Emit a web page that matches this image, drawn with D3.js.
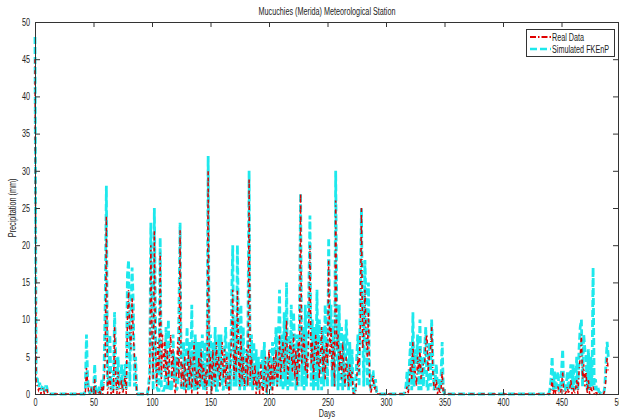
<!DOCTYPE html>
<html>
<head>
<meta charset="utf-8">
<script src="https://cdn.jsdelivr.net/npm/d3@7"></script>
<style>
body { margin: 0; background: #fff; }
text { font-family: "Liberation Sans", Arial, sans-serif; font-size: 10px; fill: #222; }
</style>
</head>
<body>
<div id="chart"></div>
<script>
const titleText = 'Mucuchies (Merida) Meteorological Station';
const seriesNames = ['Real Data', 'Simulated FKEnP'];
const xTicks = [0, 50, 100, 150, 200, 250, 300, 350, 400, 450, 500];
const yTicks = [0, 5, 10, 15, 20, 25, 30, 35, 40, 45, 50];

// daily precipitation (mm), day 0 .. 490
const realData = [
  45, 1.5, 1, 0.5, 1, 0, 0.5, 0.8, 0, 0.5,
  0.8, 0, 0, 0, 0, 0, 0, 0, 0, 0,
  0, 0, 0, 0, 0, 0, 0, 0, 0, 0,
  0, 0, 0, 0, 0, 0, 0, 0, 0, 0,
  0, 0, 0, 0, 3.5, 1.5, 0, 0, 0.6, 0,
  0, 2, 0, 0, 0, 0.5, 0, 1, 0, 1.5,
  5, 24, 0, 1, 3, 0, 0.5, 0, 9, 2,
  0, 3, 0, 0.5, 2, 0, 1, 2.5, 0, 10,
  14, 8, 6, 13, 8, 5, 3, 0, 0, 0,
  0, 0, 0, 0, 0, 0, 0, 0.5, 2, 20,
  8, 2, 22, 6, 1, 7, 3, 19, 2, 8,
  3, 7, 2, 6, 1, 5, 8, 2, 6, 1,
  0, 3, 7, 2, 22, 1, 4, 1, 5, 0,
  2, 6, 1, 5, 0, 4, 7, 1, 3, 0,
  5, 1, 6, 2, 4, 1, 3, 0, 30, 2,
  5, 0, 6, 2, 1, 7, 3, 5, 1, 4,
  7, 2, 6, 1, 5, 2, 0, 4, 8, 14,
  2, 6, 3, 14, 5, 1, 8, 2, 5, 1,
  3, 6, 1, 29, 2, 5, 3, 1, 4, 0,
  2, 3, 0, 4, 1, 0, 3, 5, 0, 2,
  6, 1, 4, 0, 5, 2, 6, 1, 3, 8,
  2, 5, 7, 3, 6, 10, 2, 4, 7, 6,
  3, 8, 2, 6, 1, 7, 3, 27, 4, 6,
  8, 3, 5, 2, 9, 20, 4, 7, 2, 6,
  8, 4, 7, 2, 5, 9, 3, 6, 2, 7,
  4, 18, 5, 9, 3, 7, 1, 26, 6, 8,
  3, 6, 2, 7, 3, 1, 5, 3, 1, 4,
  2, 3, 0, 0, 0, 2, 5, 3, 9, 25,
  6, 8, 14, 8, 5, 11, 2, 0, 1, 2.5,
  0.5, 1, 0, 0, 0, 0, 0, 0, 0, 0,
  0, 0, 0, 0, 0, 0, 0, 0, 0, 0,
  0, 0, 0, 0, 0, 0, 0, 0.3, 1, 0,
  2, 4, 2, 7, 3, 3, 1, 5, 3, 6,
  2, 3, 4, 4, 7, 8, 3, 5, 6, 9,
  3, 1, 0.5, 2, 0, 1, 0, 0.5, 3, 0,
  0, 0, 0, 0, 0, 0, 0, 0, 0, 0,
  0, 0, 0, 0, 0, 0, 0, 0, 0, 0,
  0, 0, 0, 0, 0, 0, 0, 0, 0, 0,
  0, 0, 0, 0, 0, 0, 0, 0, 0, 0,
  0, 0, 0, 0, 0, 0, 0, 0, 0, 0,
  0, 0, 0, 0, 0, 0, 0, 0, 0, 0,
  0, 0, 0, 0, 0, 0, 0, 0, 0, 0,
  0, 0, 0, 0, 0, 0, 0, 0, 0, 0,
  0, 0, 0, 0, 0, 0, 0, 0, 0, 0,
  0, 0.5, 2, 0, 1, 0, 0.5, 1, 0, 0,
  1, 3, 0, 0, 0.3, 1, 0, 0.5, 2, 0,
  1, 0, 0.5, 2, 0, 3, 5, 8, 2, 4,
  1, 3, 0, 2, 0, 1, 0.2, 1, 0, 0.3,
  0, 0.3, 0, 0, 0, 0, 0, 0.5, 2, 5,
  3
];

const simData = [
  48, 2, 2, 1, 1.5, 0.5, 1, 1.2, 0.3, 1,
  1, 0.2, 0, 0, 0, 0, 0, 0, 0, 0,
  0, 0, 0, 0, 0, 0, 0, 0, 0, 0,
  0, 0, 0, 0, 0, 0, 0, 0, 0, 0,
  0, 0, 0, 0.5, 8, 2, 0.5, 0, 1, 0.3,
  0, 4, 0.5, 0, 0.3, 1, 0, 2, 0.5, 3,
  12, 28, 1, 2, 8, 0.5, 2, 0.5, 11, 5,
  0.5, 5, 1, 1, 4, 0.5, 3, 4, 0.5, 16,
  18, 1, 10, 17, 12, 1, 5, 0, 0, 0,
  0, 0, 0, 0, 0, 0, 0, 1, 3, 23,
  12, 0.5, 25, 10, 1, 0.5, 0.5, 21, 1, 0.5,
  0.5, 1, 9, 0.5, 10, 0.5, 1, 0.5, 8, 2,
  5, 0.5, 1, 11, 23, 1, 0.5, 7, 0.5, 4,
  9, 0.5, 7, 0.5, 12, 1, 0.5, 8, 0.5, 7,
  0.5, 7, 1, 8, 0.5, 7, 0.5, 2, 32, 1,
  8, 0.5, 7, 1, 9, 0.5, 0.5, 8, 1, 8,
  1, 0.5, 6, 9, 0.5, 1, 7, 0.5, 12, 20,
  1, 10, 1, 20, 6, 0.5, 12, 1, 9, 0.5,
  6, 1, 9, 30, 1, 8, 0.5, 7, 1, 6,
  0.5, 5, 0.5, 3, 6, 1, 7, 0.5, 0.3, 5,
  1, 6, 0.5, 7, 1, 5, 9, 1, 7, 14,
  1, 8, 0.5, 11, 1, 15, 0.5, 8, 1, 12,
  1, 11, 6, 0.5, 8, 1, 10, 27, 1, 9,
  0.5, 12, 1, 8, 13, 24, 1, 10, 0.5, 9,
  1, 14, 0.5, 10, 6, 0.5, 9, 1, 12, 7,
  1, 21, 8, 12, 1, 10, 1, 30, 9, 0.5,
  12, 1, 9, 0.5, 8, 1, 10, 6, 0.5, 7,
  1, 6, 0.5, 0, 1, 5, 8, 1, 13, 25,
  9, 1, 18, 12, 1, 15, 1, 0.5, 3, 3,
  1, 2, 0.3, 0, 0, 0, 0, 0, 0, 0,
  0, 0, 0, 0, 0, 0, 0, 0, 0, 0,
  0, 0, 0, 0, 0, 0, 0.2, 1, 3, 0.5,
  4, 7, 0.5, 11, 1, 6, 4, 8, 0.5, 10,
  0.5, 5, 1, 6, 9, 1, 0.5, 7, 1, 10,
  5, 0.5, 2, 4, 0.5, 2, 0.5, 2, 7, 0.5,
  0, 0, 0, 0, 0, 0, 0, 0, 0, 0,
  0, 0, 0, 0, 0, 0, 0, 0, 0, 0,
  0, 0, 0, 0, 0, 0, 0, 0, 0, 0,
  0, 0, 0, 0, 0, 0, 0, 0, 0, 0,
  0, 0, 0, 0, 0, 0, 0, 0, 0, 0,
  0, 0, 0, 0, 0, 0, 0, 0, 0, 0,
  0, 0, 0, 0, 0, 0, 0, 0, 0, 0,
  0, 0, 0, 0, 0, 0, 0, 0, 0, 0,
  0, 0, 0, 0, 0, 0, 0, 0, 0, 0,
  0.5, 2, 5, 0.5, 3, 0.5, 2, 3, 0.5, 0.5,
  3, 6, 0.5, 0.5, 1, 3, 0.5, 2, 4, 0.5,
  4, 0.5, 2, 5, 0.5, 6, 9, 10, 1, 8,
  6, 5, 0.5, 6, 0.5, 5, 1, 17, 0.5, 2,
  0.5, 1, 0.3, 0.2, 0, 0, 0, 1, 4, 7,
  5
];

const width = 619, height = 420;
const margin = { left: 35, top: 22 };

const svg = d3.select('#chart').append('svg')
    .attr('width', width)
    .attr('height', height);

svg.append('rect').attr('width', width).attr('height', height).attr('fill', '#fff');

const x = d3.scaleLinear().domain([0, 500]).range([margin.left, 620]);
const y = d3.scaleLinear().domain([0, 50]).range([394, margin.top]);

const line = d3.line()
    .x((d, i) => x(i))
    .y(d => y(d));

const realColor = '#e00000', simColor = '#1ee8ec';
const realDash = '4,3,1,3', simDash = '7,3';
const realWidth = 1.5, simWidth = 2.8;

const plot = svg.append('g');

// wide simulated line underneath, thin real data line on top of it
plot.append('path')
    .datum(simData)
    .attr('d', line)
    .attr('fill', 'none')
    .attr('stroke', simColor)
    .attr('stroke-width', simWidth)
    .attr('stroke-dasharray', simDash);

plot.append('path')
    .datum(realData)
    .attr('d', line)
    .attr('fill', 'none')
    .attr('stroke', realColor)
    .attr('stroke-width', realWidth)
    .attr('stroke-dasharray', realDash);

// axes box, matlab style ticks pointing inward
const axisColor = '#333';
const xAxis = d3.axisBottom(x).tickValues(xTicks).tickSize(-5).tickPadding(5).tickFormat(d3.format('d'));
const xAxisTop = d3.axisTop(x).tickValues(xTicks).tickSize(-5).tickFormat('');
const yAxis = d3.axisLeft(y).tickValues(yTicks).tickSize(-5).tickPadding(5);
const yAxisRight = d3.axisRight(y).tickValues(yTicks).tickSize(-5).tickFormat('');

function styleAxis(g) {
    g.select('.domain').attr('stroke', axisColor);
    g.selectAll('.tick line').attr('stroke', axisColor);
    g.selectAll('.tick text').attr('fill', '#222')
        .style('font-family', '"Liberation Sans", Arial, sans-serif')
        .style('font-size', '10px');
}

svg.append('g').attr('transform', 'translate(0,394)').call(xAxis).call(styleAxis)
    .call(g => g.select('.domain').attr('d', 'M' + x(0) + ',0.5H' + x(500)));
svg.append('g').attr('transform', 'translate(0,' + margin.top + ')').call(xAxisTop).call(styleAxis)
    .call(g => g.select('.domain').attr('d', 'M' + x(0) + ',0.5H' + x(500)));
svg.append('g').attr('transform', 'translate(' + margin.left + ',0)').call(yAxis).call(styleAxis)
    .call(g => g.select('.domain').attr('d', 'M0.5,' + y(50) + 'V' + y(0)));
svg.append('g').attr('transform', 'translate(618,0)').call(yAxisRight).call(styleAxis)
    .call(g => g.select('.domain').attr('d', 'M0.5,' + y(50) + 'V' + y(0)));

// titles
const title = svg.append('text')
    .attr('x', 327).attr('y', 15)
    .attr('text-anchor', 'middle')
    .text(titleText);

svg.append('text')
    .attr('x', 327).attr('y', 417)
    .attr('text-anchor', 'middle')
    .text('Days');

svg.append('text')
    .attr('transform', 'translate(16,' + ((y(0) + y(50)) / 2) + ') rotate(-90)')
    .attr('text-anchor', 'middle')
    .text('Precipitation (mm)');

// legend
const legend = svg.append('g').attr('transform', 'translate(526,29)');
legend.append('rect')
    .attr('x', 0.5).attr('y', 0.5)
    .attr('width', 88).attr('height', 27)
    .attr('fill', '#fff')
    .attr('stroke', axisColor);

const legendStyles = [
    { color: realColor, dash: '6,2,1.5,2', w: 2 },
    { color: simColor, dash: simDash, w: 2.5 }
];
seriesNames.forEach((name, i) => {
    const ly = 8 + i * 12;
    legend.append('line')
        .attr('x1', 4).attr('x2', 25)
        .attr('y1', ly).attr('y2', ly)
        .attr('stroke', legendStyles[i].color)
        .attr('stroke-width', legendStyles[i].w)
        .attr('stroke-dasharray', legendStyles[i].dash);
    legend.append('text')
        .attr('x', 26).attr('y', ly + 3.5)
        .text(name);
});

// matlab's font here is a narrow one: squeeze every text the same way
const squeeze = 137 / title.node().getComputedTextLength();
svg.selectAll('text').each(function() {
    const w = this.getComputedTextLength();
    if (w > 0) {
        d3.select(this)
            .attr('textLength', w * squeeze)
            .attr('lengthAdjust', 'spacingAndGlyphs');
    }
});
</script>
</body>
</html>
